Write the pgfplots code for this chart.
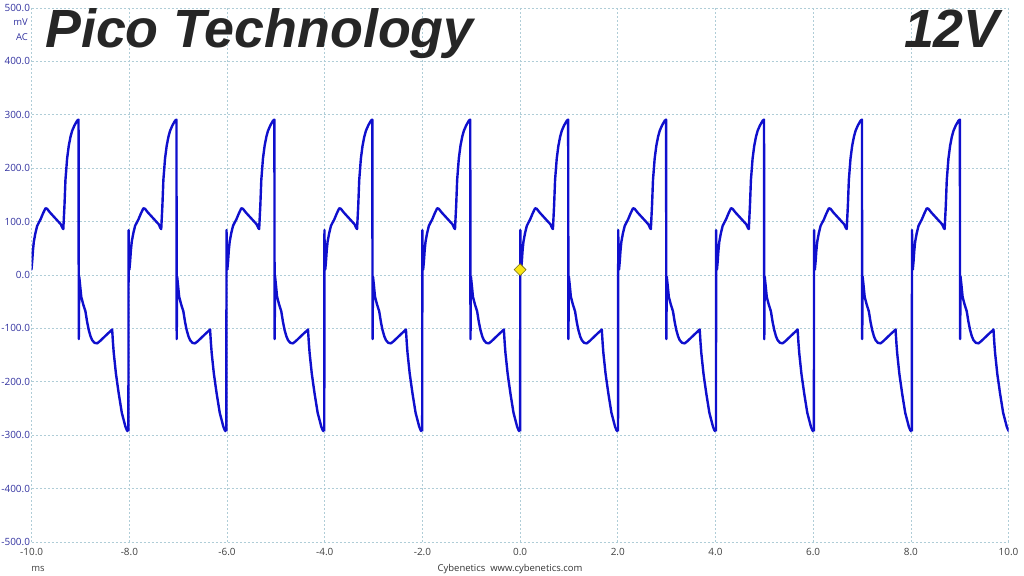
\documentclass[border=0pt]{standalone}
\usepackage{fontspec}
\setmainfont{Open Sans}
\newfontfamily\titlefont{Liberation Sans}
\usepackage{pgfplots}
\pgfplotsset{compat=1.18}
\usepackage{pgfplotstable}
\definecolor{trace}{RGB}{15,15,205}
\definecolor{gridc}{RGB}{175,205,215}
\definecolor{ylab}{RGB}{50,50,160}
\definecolor{xlab}{RGB}{64,64,64}
\definecolor{mk}{RGB}{250,230,20}
\definecolor{titlec}{RGB}{38,38,38}

\pgfplotstableread{
t v
0.000 -293
0.004 84
0.010 30
0.020 10
0.035 25
0.050 45
0.068 62
0.100 78
0.137 92
0.170 98
0.205 104
0.255 115
0.307 125
0.340 124
0.400 117
0.480 109
0.560 101
0.620 95
0.655 88
0.672 86
0.696 130
0.716 178
0.750 218
0.784 242
0.820 259
0.853 270
0.900 280
0.956 289
0.984 291
0.989 -120
0.994 -60
0.998 -3
1.015 -18
1.040 -41
1.080 -55
1.125 -68
1.160 -88
1.193 -103
1.230 -115
1.263 -122
1.310 -127
1.365 -128
1.420 -124
1.500 -117
1.580 -110
1.640 -105
1.672 -102
1.690 -128
1.705 -146
1.750 -185
1.807 -222
1.870 -258
1.944 -284
1.975 -291
2.000 -293
}\period

\begin{document}
\begin{tikzpicture}[x=1bp,y=1bp]
\useasboundingbox (0,0) rectangle (1024,576);
\begin{axis}[
  at={(31.7bp,34bp)}, anchor=south west,
  scale only axis, width=976.8bp, height=534bp,
  xmin=-10, xmax=10, ymin=-500, ymax=500,
  xtick={-10,-8,-6,-4,-2,0,2,4,6,8,10},
  ytick={-500,-400,-300,-200,-100,0,100,200,300,400,500},
  grid=major,
  grid style={gridc, dash pattern=on 2bp off 2bp, line width=0.6bp},
  axis line style={draw=none},
  tick style={draw=none},
  ticklabel style={font=\fontsize{10}{12}\selectfont},
  yticklabel style={text=ylab, anchor=east, inner sep=0pt, xshift=-1.5bp},
  xticklabel style={text=xlab, anchor=north, inner sep=0pt, yshift=-6bp},
  /pgf/number format/fixed,
  /pgf/number format/fixed zerofill,
  /pgf/number format/precision=1,
  /pgf/number format/assume math mode=true,
  unbounded coords=jump,
]
\pgfplotsinvokeforeach{-10.025,-8.02,-6.015,-4.01,-2.005,0,2.005,4.01,6.015,8.02}{
  \addplot[trace, line width=2.4bp, line join=round, restrict x to domain=-10.015:12] table[x expr=\thisrow{t}+#1, y=v]{\period};
}
\addplot[only marks, mark=square*, mark size=4.2bp, mark options={rotate=45, fill=mk, draw=black!55!mk, line width=0.6bp}] coordinates {(0,10)};
\end{axis}
% labels
\node[anchor=east, inner sep=0pt, text=ylab, font=\fontsize{9.5}{11}\selectfont] at (28,554) {mV};
\node[anchor=east, inner sep=0pt, text=ylab, font=\fontsize{9.5}{11}\selectfont] at (28,539) {AC};
\node[anchor=center, inner sep=0pt, text=xlab, font=\fontsize{9.5}{11}\selectfont] at (38,7) {ms};
\node[anchor=center, inner sep=0pt, text=xlab!80!black, font=\fontsize{9.5}{11}\selectfont] at (510,7) {Cybenetics\ \ www.cybenetics.com};
% title
\node[anchor=base west, inner sep=0pt, text=titlec, font=\titlefont\bfseries\itshape\fontsize{54}{60}\selectfont] at (45,528) {Pico Technology};
\node[anchor=base east, inner sep=0pt, text=titlec, font=\titlefont\bfseries\itshape\fontsize{54}{60}\selectfont] at (1000,528) {12V};
\end{tikzpicture}
\end{document}
